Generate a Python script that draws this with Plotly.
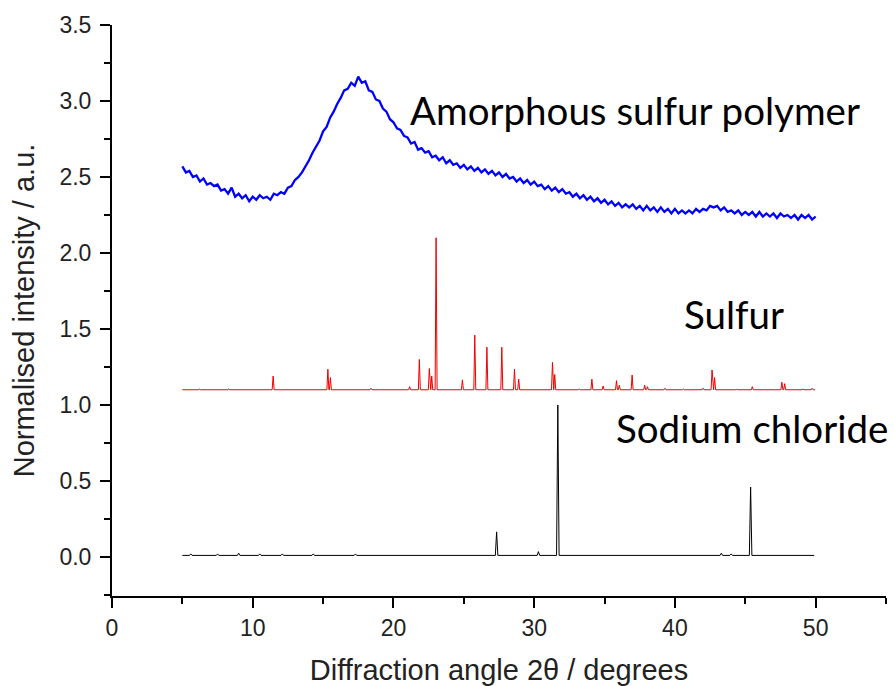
import numpy as np
import plotly.graph_objects as go

# ---------------- data ----------------
# Amorphous sulfur polymer: 2theta from 5 to 50 in 0.25 deg steps
amorph_start, amorph_step = 5.0, 0.25
amorph_y = [
    2.57, 2.53, 2.54, 2.50, 2.51, 2.47, 2.49, 2.45, 2.46, 2.44, 2.45, 2.41,
    2.42, 2.39, 2.43, 2.37, 2.39, 2.36, 2.38, 2.34, 2.37, 2.35, 2.38, 2.36,
    2.37, 2.35, 2.39, 2.38, 2.40, 2.39, 2.43, 2.44, 2.48, 2.50, 2.53, 2.57,
    2.61, 2.66, 2.70, 2.74, 2.80, 2.83, 2.89, 2.93, 2.98, 3.02, 3.07, 3.08,
    3.12, 3.10, 3.16, 3.12, 3.13, 3.07, 3.06, 3.01, 3.00, 2.95, 2.93, 2.88,
    2.86, 2.82, 2.81, 2.77, 2.76, 2.72, 2.73, 2.68, 2.69, 2.66, 2.67, 2.63,
    2.64, 2.61, 2.63, 2.59, 2.61, 2.58, 2.59, 2.56, 2.58, 2.55, 2.57, 2.54,
    2.56, 2.53, 2.55, 2.52, 2.54, 2.51, 2.53, 2.50, 2.52, 2.49, 2.50, 2.47,
    2.49, 2.46, 2.48, 2.45, 2.47, 2.44, 2.45, 2.42, 2.44, 2.41, 2.43, 2.40,
    2.42, 2.39, 2.40, 2.37, 2.39, 2.36, 2.38, 2.35, 2.37, 2.34, 2.36, 2.33,
    2.35, 2.32, 2.34, 2.31, 2.33, 2.30, 2.32, 2.30, 2.32, 2.29, 2.31, 2.28,
    2.31, 2.28, 2.30, 2.27, 2.30, 2.27, 2.29, 2.26, 2.29, 2.26, 2.28, 2.26,
    2.28, 2.26, 2.29, 2.27, 2.29, 2.28, 2.31, 2.30, 2.31, 2.28, 2.30, 2.27,
    2.28, 2.26, 2.28, 2.25, 2.27, 2.25, 2.27, 2.24, 2.27, 2.24, 2.26, 2.24,
    2.26, 2.23, 2.26, 2.24, 2.25, 2.23, 2.25, 2.22, 2.25, 2.23, 2.25, 2.22,
    2.24,
]

# Sulfur: baseline and peak (position, top value)
sulfur_range = (5.0, 49.95)
sulfur_base = 1.10
sulfur_peak_pos = [6.2, 8.3, 9.6, 11.45, 15.34, 15.52, 18.4, 21.15, 21.84, 22.55,
                   22.72, 23.03, 24.9, 25.78, 26.64, 27.7, 28.6, 28.9, 31.3, 31.46,
                   33.2, 34.1, 34.9, 35.85, 36.05, 36.96, 37.85, 38.05, 39.3, 40.6,
                   42.0, 42.64, 42.82, 44.4, 45.5, 47.6, 47.8, 49.1, 49.75]
sulfur_peak_top = [1.105, 1.106, 1.104, 1.19, 1.235, 1.18, 1.11, 1.12, 1.30, 1.24,
                   1.19, 2.10, 1.165, 1.46, 1.38, 1.38, 1.235, 1.17, 1.28, 1.20,
                   1.105, 1.17, 1.125, 1.16, 1.13, 1.197, 1.13, 1.12, 1.11, 1.105,
                   1.11, 1.23, 1.18, 1.103, 1.12, 1.15, 1.14, 1.105, 1.11]

# Sodium chloride: baseline and peaks
nacl_range = (5.0, 49.9)
nacl_base = 0.01
nacl_peak_pos = [5.6, 7.5, 9.0, 10.5, 12.1, 14.3, 17.3, 27.33, 30.3, 31.68, 43.3, 44.0, 45.38]
nacl_peak_top = [0.02, 0.02, 0.025, 0.02, 0.02, 0.02, 0.02, 0.165, 0.035, 1.0, 0.025, 0.02, 0.46]

labels = ["Amorphous sulfur polymer", "Sulfur", "Sodium chloride"]
label_x = [21.0, 40.5, 35.7]
label_y = [2.94, 1.60, 0.85]


def stick_profile(xrange_, base, pos, top, hw):
    xs, ys = [xrange_[0]], [base]
    for c, t in sorted(zip(pos, top)):
        xs += [c - hw, c, c + hw]
        ys += [base, t, base]
    xs.append(xrange_[1])
    ys.append(base)
    return xs, ys


amorph_x = amorph_start + amorph_step * np.arange(len(amorph_y))
s_x, s_y = stick_profile(sulfur_range, sulfur_base, sulfur_peak_pos, sulfur_peak_top, 0.07)
n_x, n_y = stick_profile(nacl_range, nacl_base, nacl_peak_pos, nacl_peak_top, 0.09)

fig = go.Figure()
fig.add_trace(go.Scatter(x=n_x, y=n_y, mode="lines", line=dict(color="black", width=1),
                         showlegend=False))
fig.add_trace(go.Scatter(x=s_x, y=s_y, mode="lines", line=dict(color="#F00000", width=1),
                         showlegend=False))
fig.add_trace(go.Scatter(x=amorph_x, y=amorph_y, mode="lines", line=dict(color="#0000FF", width=2.3),
                         showlegend=False))

for t, xx, yy in zip(labels, label_x, label_y):
    fig.add_annotation(x=xx, y=yy, text=t, showarrow=False, xanchor="left", yanchor="middle",
                       font=dict(family="Lato", size=38.5, color="black"))

axis_common = dict(showline=True, linewidth=2, linecolor="black", ticks="outside",
                   ticklen=10, tickwidth=2, tickcolor="black", showgrid=False, zeroline=False,
                   automargin=False,
                   tickfont=dict(family="Liberation Sans, Arial", size=23, color="#222"))

fig.update_xaxes(range=[0, 55], dtick=10, tick0=0,
                 minor=dict(dtick=5, ticks="outside", ticklen=6, tickwidth=2, tickcolor="black"),
                 title=dict(text="Diffraction angle 2θ / degrees", standoff=24,
                            font=dict(family="Liberation Sans, Arial", size=29, color="#222")),
                 **axis_common)
fig.update_yaxes(range=[-0.257, 3.5], dtick=0.5, tick0=0, tickformat=".1f",
                 ticklabelstandoff=4,
                 minor=dict(dtick=0.25, ticks="outside", ticklen=6, tickwidth=2, tickcolor="black"),
                 title=dict(text="Normalised intensity / a.u.", standoff=16,
                            font=dict(family="Liberation Sans, Arial", size=29, color="#222")),
                 **axis_common)

fig.update_layout(width=894, height=686, margin=dict(l=112, r=8, t=25, b=90),
                  plot_bgcolor="white", paper_bgcolor="white")

fig.write_html("out.html")
